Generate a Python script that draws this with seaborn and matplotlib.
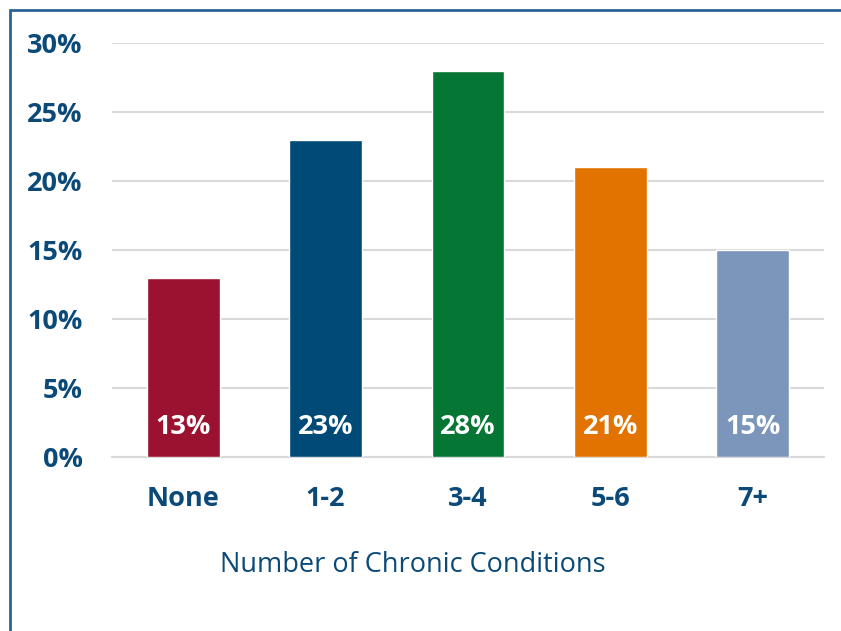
import matplotlib
matplotlib.use("Agg")
import matplotlib.pyplot as plt
import seaborn as sns
import pandas as pd
from matplotlib.patches import Rectangle

categories = ["None", "1-2", "3-4", "5-6", "7+"]
values = [13, 23, 28, 21, 15]
bar_colors = ["#9B1230", "#004A77", "#057634", "#E27300", "#7B96BA"]
yticks = [0, 5, 10, 15, 20, 25, 30]
ytick_labels = ["0%", "5%", "10%", "15%", "20%", "25%", "30%"]
xlabel = "Number of Chronic Conditions"

sns.set_theme(style="white")
plt.rcParams["font.family"] = ["Open Sans", "DejaVu Sans"]

text_color = "#0B4A78"
df = pd.DataFrame({"cat": categories, "val": values})

fig = plt.figure(figsize=(8.41, 6.31), dpi=100)
ax = fig.add_axes([112/841, (631-457)/631, (824-112)/841, (457-43)/631])

sns.barplot(data=df, x="cat", y="val", hue="cat", palette=bar_colors,
            order=categories, hue_order=categories, legend=False,
            width=0.51, saturation=1, ax=ax, zorder=3)

ax.set_ylim(0, 30)
ax.set_xlim(-0.5, 4.5)
ax.set_yticks(yticks)
ax.set_yticklabels(ytick_labels)
ax.yaxis.grid(True, color="#D9D9D9", linewidth=1.5, zorder=0)
ax.set_axisbelow(True)
for s in ["top", "right", "left"]:
    ax.spines[s].set_visible(False)
ax.spines["bottom"].set_color("#D9D9D9")
ax.spines["bottom"].set_linewidth(1.5)
ax.tick_params(axis="y", length=0, pad=21, labelsize=19.5, labelcolor=text_color)
ax.tick_params(axis="x", length=0, pad=21, labelsize=19.5, labelcolor=text_color)
for lbl in ax.get_xticklabels() + ax.get_yticklabels():
    lbl.set_fontweight("bold")
ax.set_xlabel("")
ax.set_ylabel("")

for i, v in enumerate(values):
    ax.text(i, 2.2, f"{v}%", ha="center", va="center", color="white",
            fontsize=19.5, fontweight="bold", zorder=4)

fig.text(413/841, (631-565)/631, xlabel, ha="center", va="center",
         color=text_color, fontsize=19.5)

fig.patches.append(Rectangle((9.5/841, -0.1), 1.5, (631-9.5)/631 + 0.1,
                             transform=fig.transFigure, fill=False,
                             edgecolor="#2A6496", linewidth=2))

fig.savefig("out.png", dpi=100)
